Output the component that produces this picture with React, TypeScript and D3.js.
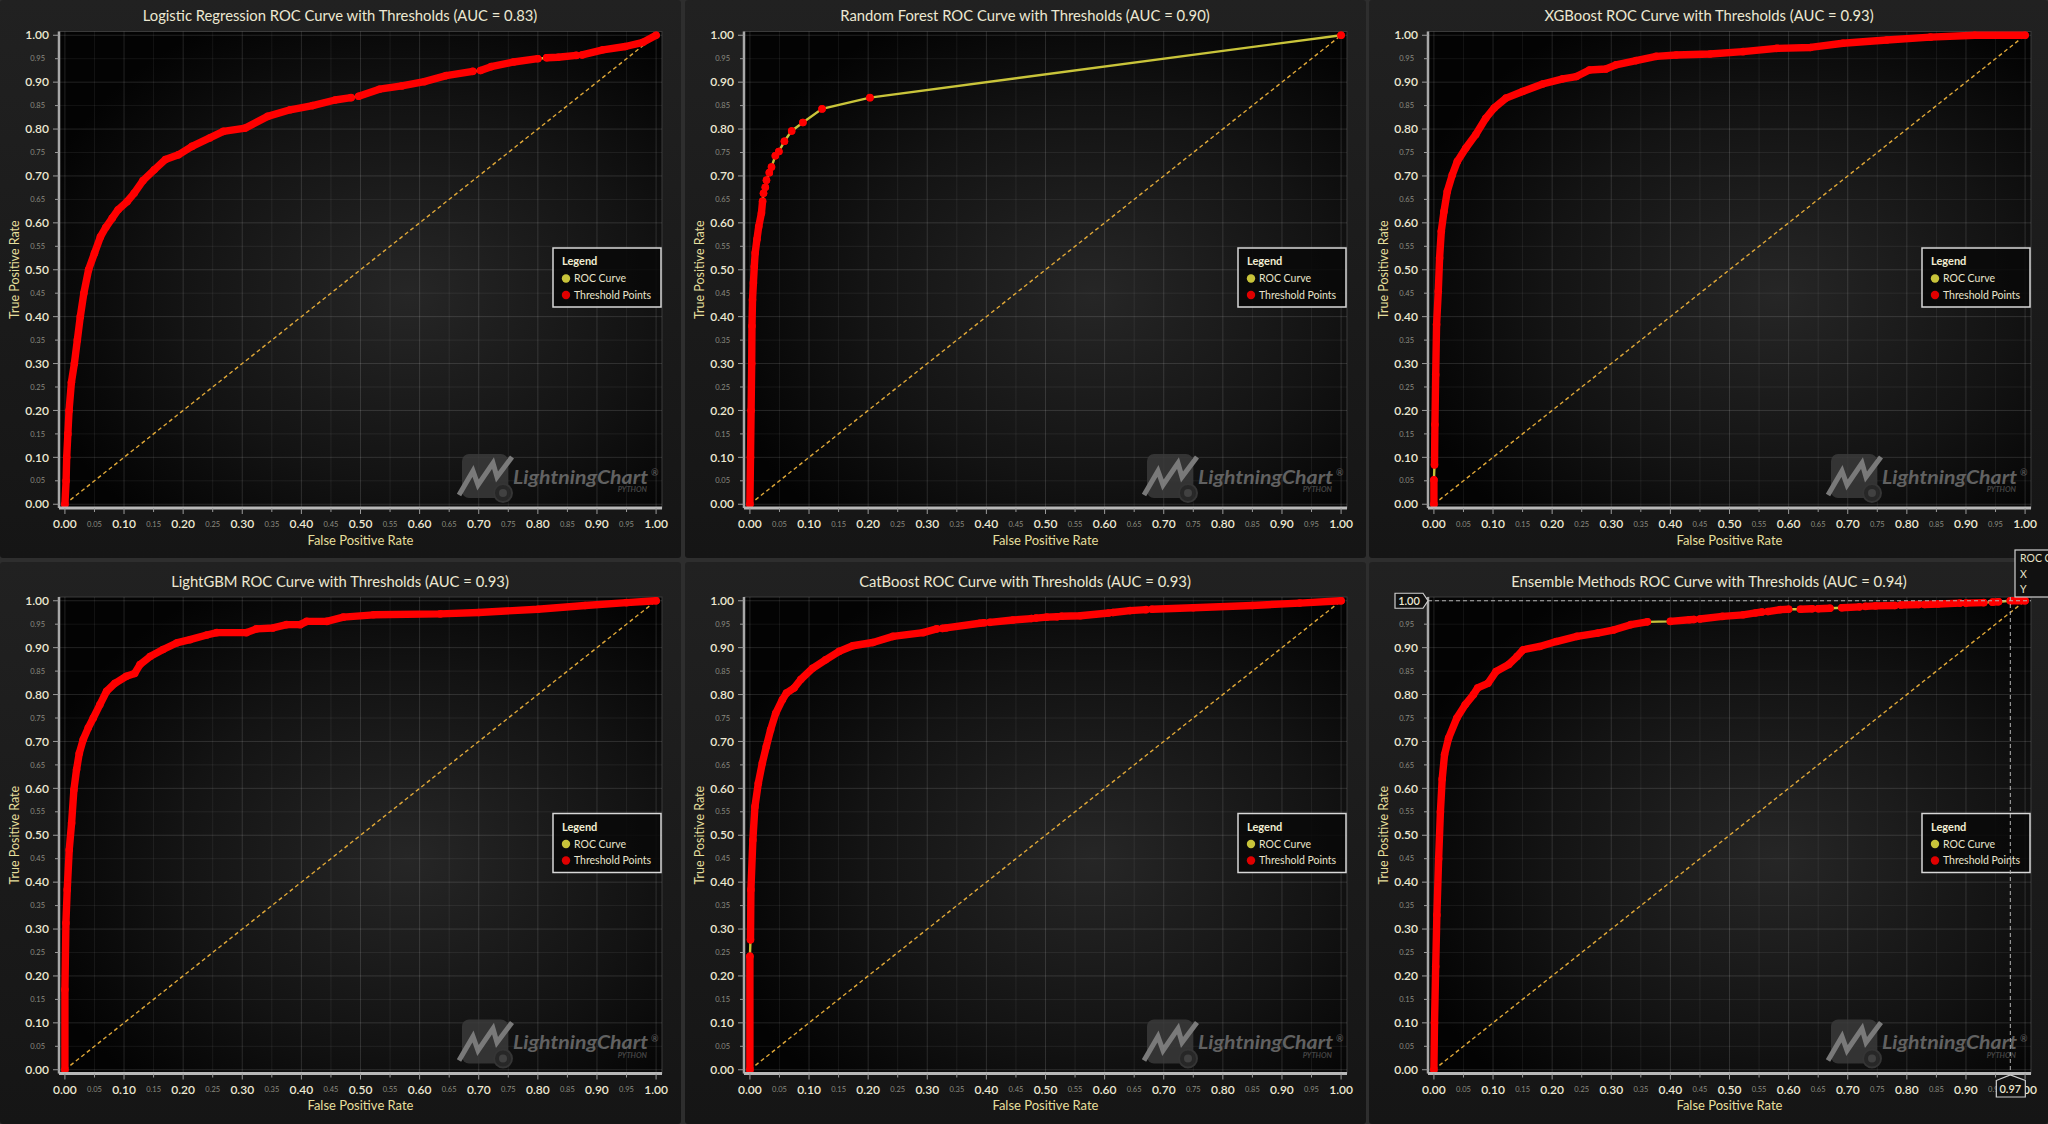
import React from 'react';
import * as d3 from 'd3';

// values
const modelNames = ['Logistic Regression', 'Random Forest', 'XGBoost', 'LightGBM', 'CatBoost', 'Ensemble Methods'];
const aucScores = [0.83, 0.9, 0.93, 0.93, 0.93, 0.94];

const lrFpr = [0, 0.002, 0.003, 0.005, 0.007, 0.011, 0.016, 0.021, 0.026, 0.032, 0.04, 0.05, 0.06, 0.069, 0.08, 0.09, 0.105, 0.117, 0.132, 0.151, 0.17, 0.192, 0.215, 0.245, 0.268, 0.305, 0.343, 0.381, 0.419, 0.457, 0.484, 0.497, 0.532, 0.57, 0.608, 0.645, 0.69, 0.703, 0.721, 0.759, 0.8, 0.815, 0.834, 0.865, 0.875, 0.91, 0.948, 0.978, 1.0];
const lrTpr = [0, 0.05, 0.1, 0.15, 0.2, 0.26, 0.3, 0.35, 0.4, 0.45, 0.5, 0.535, 0.57, 0.59, 0.61, 0.628, 0.645, 0.663, 0.69, 0.713, 0.735, 0.745, 0.763, 0.781, 0.795, 0.802, 0.827, 0.841, 0.85, 0.862, 0.867, 0.87, 0.885, 0.892, 0.901, 0.914, 0.923, 0.925, 0.933, 0.943, 0.95, 0.952, 0.953, 0.957, 0.958, 0.969, 0.976, 0.985, 1.0];
const lrGaps = [[0.485, 0.496], [0.691, 0.702], [0.801, 0.814], [0.866, 0.874]];

const rfFpr = [0, 0.001, 0.002, 0.003, 0.0035, 0.0044, 0.0059, 0.0074, 0.0089, 0.0119, 0.0149, 0.0195, 0.0214, 0.023, 0.026, 0.028, 0.0328, 0.0365, 0.043, 0.049, 0.0584, 0.0706, 0.0896, 0.122, 0.203, 1.0];
const rfTpr = [0, 0.1, 0.2, 0.3, 0.38, 0.436, 0.472, 0.507, 0.536, 0.565, 0.592, 0.621, 0.646, 0.663, 0.676, 0.691, 0.707, 0.719, 0.743, 0.752, 0.774, 0.796, 0.814, 0.843, 0.867, 1.0];
const rfGaps = [[0.0205, 1.02]];

const xgbFpr = [0, 0, 0.001, 0.0017, 0.003, 0.0045, 0.0074, 0.0096, 0.0125, 0.017, 0.0226, 0.031, 0.0396, 0.0538, 0.0707, 0.0877, 0.102, 0.122, 0.15, 0.184, 0.218, 0.241, 0.263, 0.291, 0.308, 0.342, 0.376, 0.41, 0.467, 0.523, 0.58, 0.637, 0.692, 0.766, 0.84, 0.915, 1.0];
const xgbTpr = [0, 0.052, 0.084, 0.17, 0.276, 0.383, 0.454, 0.525, 0.582, 0.624, 0.667, 0.702, 0.731, 0.759, 0.788, 0.823, 0.845, 0.866, 0.88, 0.896, 0.907, 0.912, 0.926, 0.928, 0.937, 0.946, 0.955, 0.958, 0.96, 0.965, 0.972, 0.974, 0.983, 0.99, 0.996, 1.0, 1.0];
const xgbGaps = [[0.0003, 0.0008]];

const lgbFpr = [0, 0, 0.0017, 0.0039, 0.0073, 0.0113, 0.0152, 0.0197, 0.0243, 0.031, 0.0395, 0.048, 0.059, 0.0705, 0.0846, 0.104, 0.118, 0.127, 0.144, 0.166, 0.189, 0.2115, 0.24, 0.257, 0.307, 0.324, 0.352, 0.375, 0.398, 0.409, 0.443, 0.471, 0.522, 0.635, 0.7, 0.8, 0.88, 0.95, 1.0];
const lgbTpr = [0, 0.171, 0.313, 0.384, 0.469, 0.526, 0.597, 0.64, 0.675, 0.704, 0.729, 0.75, 0.778, 0.807, 0.824, 0.839, 0.845, 0.864, 0.881, 0.896, 0.91, 0.917, 0.927, 0.932, 0.932, 0.94, 0.942, 0.949, 0.949, 0.956, 0.956, 0.965, 0.97, 0.972, 0.975, 0.982, 0.99, 0.996, 1.0];
const lgbGaps: number[][] = [];

const cbFpr = [0, 0, 0.001, 0.0017, 0.005, 0.0085, 0.0142, 0.021, 0.0277, 0.035, 0.0436, 0.0549, 0.0617, 0.0747, 0.086, 0.106, 0.128, 0.151, 0.174, 0.208, 0.242, 0.293, 0.316, 0.326, 0.332, 0.389, 0.396, 0.406, 0.445, 0.476, 0.484, 0.502, 0.52, 0.527, 0.559, 0.607, 0.614, 0.643, 0.67, 0.68, 0.75, 0.85, 0.93, 1.0];
const cbTpr = [0, 0.242, 0.277, 0.384, 0.49, 0.561, 0.611, 0.654, 0.689, 0.725, 0.76, 0.789, 0.803, 0.814, 0.832, 0.856, 0.874, 0.892, 0.904, 0.911, 0.924, 0.932, 0.94, 0.941, 0.942, 0.952, 0.953, 0.954, 0.959, 0.962, 0.963, 0.965, 0.966, 0.967, 0.968, 0.974, 0.975, 0.979, 0.981, 0.982, 0.985, 0.99, 0.995, 1.0];
const cbGaps = [[0.0003, 0.0008], [0.317, 0.325], [0.397, 0.405], [0.477, 0.483], [0.521, 0.526], [0.608, 0.613], [0.671, 0.679]];

const enFpr = [0, 0.001, 0.003, 0.005, 0.008, 0.011, 0.014, 0.018, 0.0248, 0.0388, 0.0528, 0.0669, 0.0739, 0.0914, 0.105, 0.1265, 0.1405, 0.151, 0.179, 0.207, 0.242, 0.277, 0.305, 0.333, 0.361, 0.4, 0.432, 0.44, 0.45, 0.488, 0.523, 0.544, 0.555, 0.565, 0.586, 0.6, 0.62, 0.64, 0.65, 0.67, 0.69, 0.72, 0.73, 0.747, 0.78, 0.79, 0.82, 0.83, 0.853, 0.89, 0.9, 0.93, 0.945, 0.955, 0.975, 1.0];
const enTpr = [0, 0.1, 0.22, 0.33, 0.45, 0.55, 0.62, 0.672, 0.707, 0.75, 0.778, 0.8, 0.814, 0.824, 0.849, 0.864, 0.881, 0.8955, 0.9026, 0.913, 0.924, 0.931, 0.938, 0.949, 0.955, 0.956, 0.9595, 0.96, 0.961, 0.9666, 0.97, 0.974, 0.976, 0.977, 0.981, 0.982, 0.982, 0.983, 0.983, 0.984, 0.985, 0.987, 0.988, 0.989, 0.99, 0.991, 0.992, 0.992, 0.993, 0.995, 0.995, 0.996, 0.997, 0.998, 1.0, 1.0];
const enGaps = [[0.362, 0.399], [0.441, 0.449], [0.556, 0.564], [0.601, 0.619], [0.641, 0.649], [0.671, 0.689], [0.721, 0.729], [0.781, 0.789], [0.821, 0.829], [0.891, 0.899], [0.931, 0.944], [0.956, 0.974]];

// crosshair left on the ensemble chart
const cursorFpr = 0.975;
const cursorTpr = 1.0;

const FPRS = [lrFpr, rfFpr, xgbFpr, lgbFpr, cbFpr, enFpr];
const TPRS = [lrTpr, rfTpr, xgbTpr, lgbTpr, cbTpr, enTpr];
const GAPS = [lrGaps, rfGaps, xgbGaps, lgbGaps, cbGaps, enGaps];

const W = 2048;
const H = 1124;
const COL_X = [0, 685, 1369];
const ROW_Y = [0, 565.5];
const PL = 59, PR = 662, PT = 31.5, PB = 508;
const FONT = 'Lato, "Open Sans", sans-serif';
const CREAM = '#ece8d2';

const Watermark = () => (
  <g opacity={0.85}>
    <rect x={462} y={454} width={46} height={44} rx={7} fill="#3a3a3a" />
    <polyline points="459,495 473,471 478,485 493,463 497,477 512,457" fill="none" stroke="#8c8c8c" strokeWidth={5} strokeLinejoin="miter" />
    <circle cx={503} cy={493} r={9} fill="#2c2c2c" stroke="#3c3c3c" strokeWidth={2} />
    <circle cx={503} cy={493} r={4} fill="#4a4a4a" />
    <text x={513} y={483.5} fontFamily={FONT} fontSize={18.5} fontStyle="italic" fontWeight={700} fill="#707070" textLength={135} lengthAdjust="spacingAndGlyphs">LightningChart</text>
    <text x={651} y={476} fontFamily={FONT} fontSize={9} fill="#707070">®</text>
    <text x={647} y={492} fontFamily={FONT} fontSize={7.5} fontStyle="italic" fontWeight={700} fill="#505050" textAnchor="end">PYTHON</text>
  </g>
);

const Legend = () => (
  <g fontFamily={FONT}>
    <rect x={553} y={248} width={108} height={59} fill="rgba(8,8,8,0.85)" stroke="#d8d8d8" strokeWidth={1.5} />
    <text x={562} y={265} fontSize={11} fontWeight={700} fill="#f2eed2">Legend</text>
    <circle cx={566} cy={278.5} r={4.2} fill="#c8c43a" />
    <text x={574} y={282} fontSize={10.5} fill="#e8e4cc">ROC Curve</text>
    <circle cx={566} cy={295} r={4.2} fill="#e00000" />
    <text x={574} y={298.5} fontSize={10.5} fill="#e8e4cc">Threshold Points</text>
  </g>
);

const Panel = ({ index }: { index: number }) => {
  const col = index % 3;
  const row = Math.floor(index / 3);
  const fpr = FPRS[index];
  const tpr = TPRS[index];
  const gaps = GAPS[index];

  const x = d3.scaleLinear().domain([-0.01, 1.01]).range([PL, PR]);
  const y = d3.scaleLinear().domain([-0.008, 1.008]).range([PB, PT]);
  const xTicks = x.ticks(20);
  const yTicks = y.ticks(20);
  const isMajor = (t: number) => Math.round(t * 100) % 10 === 0;

  const pts: [number, number][] = fpr.map((f, i) => [f, tpr[i]]);
  const line = d3.line<[number, number]>().x(d => x(d[0])).y(d => y(d[1]));

  // dense runs of thresholds are drawn as a solid band, sparse stretches leave the line visible
  const runs: [number, number][][] = [];
  let cur: [number, number][] = [pts[0]];
  for (let i = 1; i < pts.length; i++) {
    const mid = (pts[i - 1][0] + pts[i][0]) / 2;
    const sparse = gaps.some(g => mid > g[0] && mid < g[1]);
    if (sparse) {
      runs.push(cur);
      cur = [pts[i]];
    } else {
      cur.push(pts[i]);
    }
  }
  runs.push(cur);

  const title = `${modelNames[index]} ROC Curve with Thresholds (AUC = ${aucScores[index].toFixed(2)})`;
  const hasCursor = index === 5;
  const cx = x(cursorFpr);
  const cy = y(cursorTpr);

  return (
    <g transform={`translate(${COL_X[col]},${ROW_Y[row]})`} fontFamily={FONT}>
      <text x={340} y={16} dy="0.35em" textAnchor="middle" fontSize={14.8} fill={CREAM}>{title}</text>

      <rect x={PL} y={PT} width={PR - PL} height={PB - PT} fill="url(#plotBg)" stroke="#3a3a3a" strokeWidth={1} />

      {xTicks.map(t => (
        <line key={'gx' + t} x1={x(t)} x2={x(t)} y1={PT} y2={PB}
          stroke={isMajor(t) ? 'rgba(255,255,255,0.13)' : 'rgba(255,255,255,0.065)'} strokeWidth={1} />
      ))}
      {yTicks.map(t => (
        <line key={'gy' + t} x1={PL} x2={PR} y1={y(t)} y2={y(t)}
          stroke={isMajor(t) ? 'rgba(255,255,255,0.13)' : 'rgba(255,255,255,0.065)'} strokeWidth={1} />
      ))}

      <Watermark />

      <line x1={x(0)} y1={y(0)} x2={x(1)} y2={y(1)} stroke="#e0a838" strokeWidth={1.4} strokeDasharray="4 3" />

      <path d={line(pts) || ''} fill="none" stroke="#c9c43a" strokeWidth={2.4} />
      {runs.map((r, i) => (
        <path key={'run' + i} d={line(r) || ''} fill="none" stroke="#ff0000" strokeWidth={7.4}
          strokeLinecap="round" strokeLinejoin="round" />
      ))}
      {pts.map((p, i) => (
        <circle key={'pt' + i} cx={x(p[0])} cy={y(p[1])} r={3.8} fill="#ff0000" />
      ))}

      <line x1={PL} x2={PL} y1={PT} y2={PB} stroke="#a8a8a8" strokeWidth={2.5} />
      <line x1={PL} x2={PR} y1={PB} y2={PB} stroke="#b8b8b8" strokeWidth={3} />

      {yTicks.map(t => (
        <g key={'ty' + t}>
          <line x1={PL - (isMajor(t) ? 6 : 4)} x2={PL} y1={y(t)} y2={y(t)} stroke="#9a9a9a" strokeWidth={1} />
          <text x={isMajor(t) ? PL - 10 : PL - 14} y={y(t)} dy="0.35em" textAnchor="end"
            fontSize={isMajor(t) ? 12 : 7.5} fontWeight={isMajor(t) ? 600 : 400}
            fill={isMajor(t) ? CREAM : '#8c8c80'}>{t.toFixed(2)}</text>
        </g>
      ))}
      {xTicks.map(t => (
        <g key={'tx' + t}>
          <line x1={x(t)} x2={x(t)} y1={PB} y2={PB + (isMajor(t) ? 6 : 4)} stroke="#9a9a9a" strokeWidth={1} />
          <text x={x(t)} y={524} dy="0.35em" textAnchor="middle"
            fontSize={isMajor(t) ? 12 : 7.5} fontWeight={isMajor(t) ? 600 : 400}
            fill={isMajor(t) ? CREAM : '#8c8c80'}>{t.toFixed(2)}</text>
        </g>
      ))}

      <text x={(PL + PR) / 2} y={540} dy="0.35em" textAnchor="middle" fontSize={13} fill="#e6df9c">False Positive Rate</text>
      <text transform={`translate(15,${(PT + PB) / 2}) rotate(-90)`} dy="0.35em" textAnchor="middle" fontSize={12.5} fill="#e6df9c">True Positive Rate</text>

      <Legend />

      {hasCursor && (
        <g>
          <line x1={PL} x2={PR} y1={cy} y2={cy} stroke="#b4b4b4" strokeWidth={1} strokeDasharray="4 3" />
          <line x1={cx} x2={cx} y1={PT} y2={PB} stroke="#b4b4b4" strokeWidth={1} strokeDasharray="4 3" />
          <path d={`M${PL - 33},${cy - 7.5} H${PL - 5} L${PL},${cy} L${PL - 5},${cy + 7.5} H${PL - 33} Z`}
            fill="#111" stroke="#d0d0d0" strokeWidth={1.2} />
          <text x={PL - 19} y={cy} dy="0.35em" textAnchor="middle" fontSize={11} fontWeight={600} fill={CREAM}>{cursorTpr.toFixed(2)}</text>
          <path d={`M${cx - 14},${PB + 7} L${cx},${PB + 1.5} L${cx + 15},${PB + 7} V${PB + 23.5} H${cx - 14} Z`}
            fill="#111" stroke="#d0d0d0" strokeWidth={1.2} />
          <text x={cx} y={PB + 15.5} dy="0.35em" textAnchor="middle" fontSize={11} fontWeight={600} fill={CREAM}>{(Math.floor(cursorFpr * 100) / 100).toFixed(2)}</text>
          <rect x={646} y={-15.5} width={60} height={47} fill="#111" stroke="#d0d0d0" strokeWidth={1.2} />
          <text x={651} y={-7.5} dy="0.35em" fontSize={10.5} fill="#e6e2c8">ROC Curve</text>
          <text x={651} y={8.5} dy="0.35em" fontSize={10.5} fill="#e6e2c8">X</text>
          <text x={651} y={24} dy="0.35em" fontSize={10.5} fill="#e6e2c8">Y</text>
        </g>
      )}
    </g>
  );
};

const App = () => {
  const panelRects = [
    { x: 0, w: 681 }, { x: 685, w: 681 }, { x: 1369, w: 679 },
  ];
  const rowRects = [{ y: 0, h: 558 }, { y: 562, h: 562 }];
  return (
    <svg width={W} height={H} style={{ position: 'absolute', left: 0, top: 0, display: 'block' }}>
      <defs>
        <radialGradient id="plotBg" cx="0.58" cy="0.55" r="0.65">
          <stop offset="0" stopColor="#262626" />
          <stop offset="0.6" stopColor="#131313" />
          <stop offset="1" stopColor="#030303" />
        </radialGradient>
        <linearGradient id="panelBg" x1="0" y1="0" x2="0" y2="1">
          <stop offset="0" stopColor="#212121" />
          <stop offset="1" stopColor="#151515" />
        </linearGradient>
      </defs>
      <rect x={0} y={0} width={W} height={H} fill="#2e2e2e" />
      {rowRects.map((r, ri) => panelRects.map((c, ci) => (
        <rect key={`bg${ri}-${ci}`} x={c.x} y={r.y} width={c.w} height={r.h} rx={3} fill="url(#panelBg)" />
      )))}
      {d3.range(6).map(i => <Panel key={i} index={i} />)}
    </svg>
  );
};

export default App;
